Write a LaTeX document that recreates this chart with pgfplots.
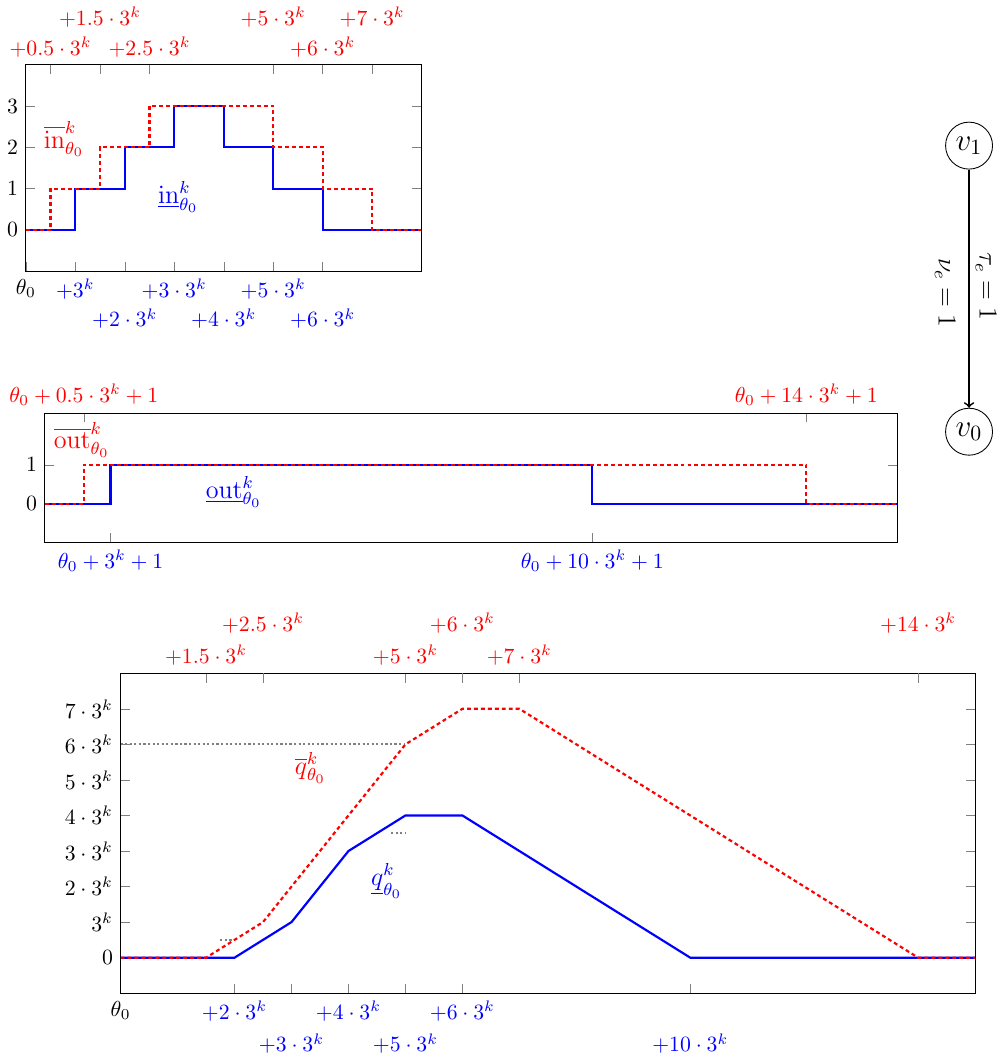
\documentclass[border=0pt]{standalone}
\usepackage{pgfplots}
\pgfplotsset{compat=1.18}
\begin{document}
\begin{tikzpicture}
\pgfplotsset{
  lo/.style={blue, line width=1pt},
  up/.style={red, line width=1pt, dash pattern=on 1.8pt off 1.4pt},
  guide/.style={gray, line width=1pt, dash pattern=on 1pt off 1.1pt},
  toprow/.style={xtick pos=right, xticklabel pos=right, ytick=\empty,
    xticklabel style={text=red}},
  botrow/.style={xtick pos=left, xticklabel pos=left,
    xticklabel style={text=blue}},
}
\path (0,0) rectangle (460.5pt,-487.6pt);

% ---------- inflow ----------
\begin{axis}[at={(11.0pt,-123.4pt)}, anchor=south west, scale only axis,
  width=182.1pt, height=95.0pt, xmin=0, xmax=8, ymin=-1, ymax=4,
  ytick={0,1,2,3}, botrow,
  xtick={0,1,3,5},
  xticklabels={\textcolor{black}{$\theta_0$},$+3^k$,$+3\cdot 3^k$,$+5\cdot 3^k$},
  extra x ticks={2,4,6},
  extra x tick labels={$+2\cdot 3^k$,$+4\cdot 3^k$,$+6\cdot 3^k$},
  extra x tick style={grid=none, xticklabel style={yshift=-13.6pt}},
]
\addplot[lo] coordinates {(0,0)(1,0)(1,1)(2,1)(2,2)(3,2)(3,3)(4,3)(4,2)(5,2)(5,1)(6,1)(6,0)(8,0)};
\addplot[up] coordinates {(0,0)(0.5,0)(0.5,1)(1.5,1)(1.5,2)(2.5,2)(2.5,3)(5,3)(5,2)(6,2)(6,1)(7,1)(7,0)(8,0)};
\node[red, font=\large] at (axis cs:0.77,2.2) {$\overline{\mathrm{in}}^k_{\theta_0}$};
\node[blue, font=\large] at (axis cs:3.08,0.8) {$\underline{\mathrm{in}}^k_{\theta_0}$};
\end{axis}
\begin{axis}[at={(11.0pt,-123.4pt)}, anchor=south west, scale only axis,
  width=182.1pt, height=95.0pt, xmin=0, xmax=8, ymin=-1, ymax=4, toprow,
  xtick={0.5,2.5,6},
  xticklabels={$+0.5\cdot 3^k$,$+2.5\cdot 3^k$,$+6\cdot 3^k$},
  extra x ticks={1.5,5,7},
  extra x tick labels={$+1.5\cdot 3^k$,$+5\cdot 3^k$,$+7\cdot 3^k$},
  extra x tick style={grid=none, xticklabel style={yshift=13.6pt}},
]
\end{axis}

% ---------- outflow ----------
\begin{axis}[at={(19.7pt,-248.2pt)}, anchor=south west, scale only axis,
  width=392.2pt, height=59.6pt, xmin=-0.23, xmax=15.7, ymin=-1, ymax=2.33,
  ytick={0,1}, botrow,
  xtick={1,10},
  xticklabels={$\theta_0+3^k+1$,$\theta_0+10\cdot 3^k+1$},
]
\addplot[lo] coordinates {(-0.23,0)(1,0)(1,1)(10,1)(10,0)(15.7,0)};
\addplot[up] coordinates {(-0.23,0)(0.5,0)(0.5,1)(14,1)(14,0)(15.7,0)};
\node[red, font=\large] at (axis cs:0.46,1.64) {$\overline{\mathrm{out}}^k_{\theta_0}$};
\node[blue, font=\large] at (axis cs:3.3,0.3) {$\underline{\mathrm{out}}^k_{\theta_0}$};
\end{axis}
\begin{axis}[at={(19.7pt,-248.2pt)}, anchor=south west, scale only axis,
  width=392.2pt, height=59.6pt, xmin=-0.23, xmax=15.7, ymin=-1, ymax=2.33,
  toprow,
  xtick={0.5,14},
  xticklabels={$\theta_0+0.5\cdot 3^k+1$,$\theta_0+14\cdot 3^k+1$},
]
\end{axis}

% ---------- queue ----------
\begin{axis}[at={(54.6pt,-455.5pt)}, anchor=south west, scale only axis,
  width=393.1pt, height=147.2pt, xmin=0, xmax=15, ymin=-1, ymax=8,
  ytick={0,1,2,3,4,5,6,7},
  yticklabels={$0$,$3^k$,$2\cdot 3^k$,$3\cdot 3^k$,$4\cdot 3^k$,$5\cdot 3^k$,$6\cdot 3^k$,$7\cdot 3^k$},
  botrow,
  xtick={0,2,4,6},
  xticklabels={\textcolor{black}{$\theta_0$},$+2\cdot 3^k$,$+4\cdot 3^k$,$+6\cdot 3^k$},
  extra x ticks={3,5,10},
  extra x tick labels={$+3\cdot 3^k$,$+5\cdot 3^k$,$+10\cdot 3^k$},
  extra x tick style={grid=none, xticklabel style={yshift=-15pt}},
]
\addplot[guide] coordinates {(0,6)(5,6)};
\addplot[guide] coordinates {(1.75,0.5)(2,0.5)};
\addplot[guide] coordinates {(4.75,3.5)(5,3.5)};
\addplot[lo] coordinates {(0,0)(2,0)(3,1)(4,3)(5,4)(6,4)(10,0)(15,0)};
\addplot[up] coordinates {(0,0)(1.5,0)(2.5,1)(5,6)(6,7)(7,7)(14,0)(15,0)};
\node[red, font=\large] at (axis cs:3.33,5.34) {$\overline{q}^k_{\theta_0}$};
\node[blue, font=\large] at (axis cs:4.67,2.16) {$\underline{q}^k_{\theta_0}$};
\end{axis}
\begin{axis}[at={(54.6pt,-455.5pt)}, anchor=south west, scale only axis,
  width=393.1pt, height=147.2pt, xmin=0, xmax=15, ymin=-1, ymax=8,
  toprow,
  xtick={1.5,5,7},
  xticklabels={$+1.5\cdot 3^k$,$+5\cdot 3^k$,$+7\cdot 3^k$},
  extra x ticks={2.5,6,14},
  extra x tick labels={$+2.5\cdot 3^k$,$+6\cdot 3^k$,$+14\cdot 3^k$},
  extra x tick style={grid=none, xticklabel style={yshift=14.7pt}},
]
\end{axis}

% ---------- network ----------
\node[draw, circle, minimum size=21.6pt, inner sep=1pt, font=\Large] (v1) at (444.9pt,-65.6pt) {$v_1$};
\node[draw, circle, minimum size=21.6pt, inner sep=1pt, font=\Large] (v0) at (444.9pt,-197.2pt) {$v_0$};
\draw[->, thick] (v1) -- (v0);
\node[rotate=-90, font=\large] at (452.7pt,-130.5pt) {$\tau_e=1$};
\node[rotate=-90, font=\large] at (433.9pt,-133.4pt) {$\nu_e=1$};
\end{tikzpicture}
\end{document}
